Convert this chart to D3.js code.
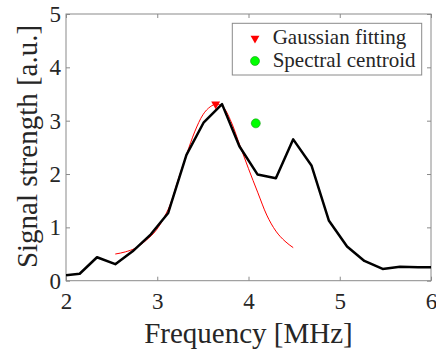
<!DOCTYPE html>
<html lang="en">
<head>
<meta charset="utf-8">
<title>Signal strength</title>
<script src="https://d3js.org/d3.v7.min.js"></script>
<style>
  body { margin: 0; background: #fff; }
  text { font-family: "Liberation Serif", "Times New Roman", serif; fill: #262626; }
</style>
</head>
<body>
<svg id="chart" width="436" height="355"></svg>
<script>
  // measured spectrum (black line)
  var freq = [1.95, 2.15, 2.34, 2.54, 2.73, 2.93, 3.12, 3.32, 3.51, 3.71, 3.90, 4.10, 4.30, 4.49, 4.69, 4.88, 5.08, 5.27, 5.47, 5.66, 5.86, 6.05];
  var strength = [0.09, 0.13, 0.44, 0.31, 0.55, 0.87, 1.27, 2.36, 2.97, 3.31, 2.52, 1.99, 1.92, 2.65, 2.16, 1.13, 0.64, 0.37, 0.22, 0.26, 0.25, 0.25];

  // gaussian fit curve (red)
  var fitFreq = [2.54, 2.65, 2.76, 2.88, 2.99, 3.08, 3.16, 3.21, 3.32, 3.41, 3.50, 3.58, 3.65, 3.72, 3.81, 3.905, 4.0, 4.1, 4.2, 4.3, 4.4, 4.49];
  var fitValue = [0.50, 0.54, 0.61, 0.76, 0.95, 1.20, 1.51, 1.79, 2.36, 2.79, 3.11, 3.26, 3.31, 3.26, 2.98, 2.54, 2.10, 1.66, 1.23, 0.93, 0.74, 0.62];

  // markers
  var fitPeak = [3.64, 3.31];
  var centroid = [4.08, 2.95];

  var xTicks = [2, 3, 4, 5, 6];
  var yTicks = [0, 1, 2, 3, 4, 5];
  var legendLabels = ["Gaussian fitting", "Spectral centroid"];

  var margin = { top: 14, left: 66 },
    width = 365,
    height = 266.7;

  var svg = d3.select("#chart")
    .append("g")
    .attr("transform", "translate(" + margin.left + "," + margin.top + ")");

  var x = d3.scaleLinear().domain([2, 6]).range([0, width]);
  var y = d3.scaleLinear().domain([0, 5]).range([height, 0]);

  svg.append("clipPath").attr("id", "clip")
    .append("rect").attr("width", width).attr("height", height);

  // axes, ticks point inwards like matlab
  function styleAxis(g) {
    g.select(".domain").remove();
    g.selectAll(".tick line").attr("stroke", "#8a8a8a");
    g.selectAll("text").style("font-size", "23px").attr("fill", "#262626");
  }

  svg.append("g")
    .attr("transform", "translate(0," + height + ")")
    .call(d3.axisBottom(x).tickValues(xTicks).tickFormat(d3.format("d")).tickSize(-4).tickPadding(12))
    .call(styleAxis);

  svg.append("g")
    .call(d3.axisTop(x).tickValues(xTicks).tickFormat("").tickSize(-4))
    .call(styleAxis);

  svg.append("g")
    .call(d3.axisLeft(y).tickValues(yTicks).tickFormat(d3.format("d")).tickSize(-4).tickPadding(5))
    .call(styleAxis);

  svg.append("g")
    .attr("transform", "translate(" + width + ",0)")
    .call(d3.axisRight(y).tickValues(yTicks).tickFormat("").tickSize(-4))
    .call(styleAxis);

  // box
  svg.append("rect")
    .attr("width", width)
    .attr("height", height)
    .attr("fill", "none")
    .attr("stroke", "#8a8a8a")
    .attr("stroke-width", 1);

  var line = d3.line()
    .x(function (d) { return x(d[0]); })
    .y(function (d) { return y(d[1]); });

  svg.append("path")
    .datum(d3.zip(fitFreq, fitValue))
    .attr("d", line.curve(d3.curveMonotoneX))
    .attr("fill", "none")
    .attr("stroke", "#ff0000")
    .attr("stroke-width", 1);

  svg.append("path")
    .datum(d3.zip(freq, strength))
    .attr("clip-path", "url(#clip)")
    .attr("d", line.curve(d3.curveLinear))
    .attr("fill", "none")
    .attr("stroke", "#000")
    .attr("stroke-width", 2.5)
    .attr("stroke-linejoin", "round");

  var triangle = d3.symbol().type(d3.symbolTriangle).size(34);

  svg.append("path")
    .attr("d", triangle)
    .attr("transform", "translate(" + x(fitPeak[0]) + "," + y(fitPeak[1]) + ") rotate(180)")
    .attr("fill", "#ff0000");

  svg.append("circle")
    .attr("cx", x(centroid[0]))
    .attr("cy", y(centroid[1]))
    .attr("r", 4.5)
    .attr("fill", "#00ff00")
    .attr("stroke", "#1a9a1a")
    .attr("stroke-width", 0.6);

  // axis labels
  svg.append("text")
    .attr("x", width / 2)
    .attr("y", 329.3)
    .attr("text-anchor", "middle")
    .style("font-size", "29px")
    .text("Frequency [MHz]");

  svg.append("text")
    .attr("transform", "translate(" + (37 - margin.left) + "," + (146.5 - margin.top) + ") rotate(-90)")
    .attr("text-anchor", "middle")
    .style("font-size", "29px")
    .text("Signal strength [a.u.]");

  // legend
  var legend = svg.append("g").attr("transform", "translate(" + (232.3 - margin.left) + "," + (23.3 - margin.top) + ")");

  legend.append("rect")
    .attr("width", 189.4)
    .attr("height", 51.7)
    .attr("fill", "#fff")
    .attr("stroke", "#8a8a8a")
    .attr("stroke-width", 1);

  legend.append("path")
    .attr("d", triangle)
    .attr("transform", "translate(22.7,15) rotate(180)")
    .attr("fill", "#ff0000");

  legend.append("circle")
    .attr("cx", 22.7)
    .attr("cy", 37.7)
    .attr("r", 4.5)
    .attr("fill", "#00ff00")
    .attr("stroke", "#1a9a1a")
    .attr("stroke-width", 0.6);

  legend.selectAll(".lbl")
    .data(legendLabels)
    .enter()
    .append("text")
    .attr("class", "lbl")
    .attr("x", 40.4)
    .attr("y", function (d, i) { return 21 + i * 22.4; })
    .style("font-size", "21px")
    .text(function (d) { return d; });
</script>
</body>
</html>
